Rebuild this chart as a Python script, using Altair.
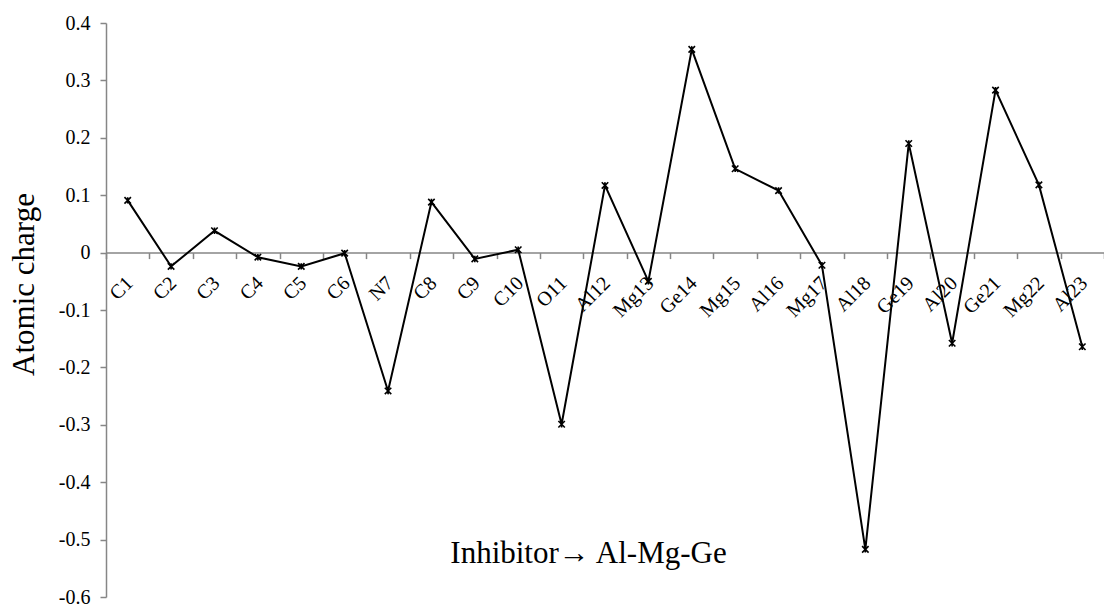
import altair as alt
import pandas as pd

# Atom labels along the inhibitor -> Al-Mg-Ge chain and their atomic charges
atoms = ["C1", "C2", "C3", "C4", "C5", "C6", "N7", "C8", "C9", "C10", "O11",
         "Al12", "Mg13", "Ge14", "Mg15", "Al16", "Mg17", "Al18", "Ge19", "Al20",
         "Ge21", "Mg22", "Al23"]
charges = [0.091, -0.024, 0.038, -0.008, -0.024, -0.001, -0.241, 0.088, -0.011,
           0.005, -0.299, 0.117, -0.050, 0.354, 0.146, 0.108, -0.022, -0.517,
           0.190, -0.158, 0.283, 0.118, -0.164]

y_ticks = [-0.6, -0.5, -0.4, -0.3, -0.2, -0.1, 0.0, 0.1, 0.2, 0.3, 0.4]
y_domain = [-0.6, 0.4]

df = pd.DataFrame({"atom": atoms, "charge": charges})

W, H = 998, 574
FONT = "Liberation Serif"
AXIS_GREY = "#868686"

# the category axis sits on the zero line
zero_offset = -H * (0 - y_domain[0]) / (y_domain[1] - y_domain[0])

x_scale = alt.Scale(type="band", paddingInner=0, paddingOuter=0)
y_scale = alt.Scale(domain=y_domain, nice=False, zero=False)

x_enc = alt.X(
    "atom:N",
    sort=atoms,
    bandPosition=0.5,
    scale=x_scale,
    axis=alt.Axis(
        title="Inhibitor\u2192 Al-Mg-Ge",
        titleFont=FONT,
        titleFontSize=31,
        titleFontWeight="normal",
        titleColor="black",
        titleX=482,
        titleY=310,
        titleAlign="center",
        titleBaseline="alphabetic",
        labels=False,
        tickBand="extent",
        tickSize=6,
        tickColor=AXIS_GREY,
        tickWidth=1.5,
        domainColor=AXIS_GREY,
        domainWidth=1.5,
        grid=False,
        offset=zero_offset,
    ),
)

y_enc = alt.Y(
    "charge:Q",
    scale=y_scale,
    axis=alt.Axis(
        values=y_ticks,
        labelExpr="replace(format(datum.value, '.1~f'), '\u2212', '-')",
        title="Atomic charge",
        titleFont=FONT,
        titleFontSize=31,
        titleFontWeight="normal",
        titleColor="black",
        titleX=-73,
        titleY=261,
        titleAngle=-90,
        titleAlign="center",
        titleBaseline="alphabetic",
        labelFont=FONT,
        labelFontSize=20,
        labelColor="black",
        labelPadding=10,
        tickSize=6,
        tickColor=AXIS_GREY,
        tickWidth=1.5,
        domainColor=AXIS_GREY,
        domainWidth=1.5,
        grid=False,
    ),
)

base = alt.Chart(df).encode(x=x_enc, y=y_enc)

line = base.mark_line(color="black", strokeWidth=2)
markers = base.mark_point(
    shape="M-1,-1L1,1M-1,1L1,-1M0,-1L0,1",
    size=42,
    filled=False,
    color="black",
    strokeWidth=1.6,
    opacity=1,
)

# slanted category labels hanging below the zero line
# (dx/dy act in the rotated text frame)
labels = alt.Chart(df).mark_text(
    align="right",
    baseline="middle",
    font=FONT,
    fontSize=20,
    color="black",
    dx=-18,
    dy=21,
).encode(
    x=alt.X("atom:N", sort=atoms, bandPosition=0.5, scale=x_scale),
    y=alt.Y("zero:Q", scale=y_scale),
    text="atom:N",
    angle=alt.value(315),
).transform_calculate(zero="0")

chart = (
    (line + markers + labels)
    .properties(
        width=W,
        height=H,
        autosize=alt.AutoSizeParams(type="none"),
        padding={"left": 106, "top": 23, "right": 0, "bottom": 9},
        background="white",
    )
    .configure_view(stroke=None)
)

chart.save("out.html", embed_options={"renderer": "svg", "actions": False})
